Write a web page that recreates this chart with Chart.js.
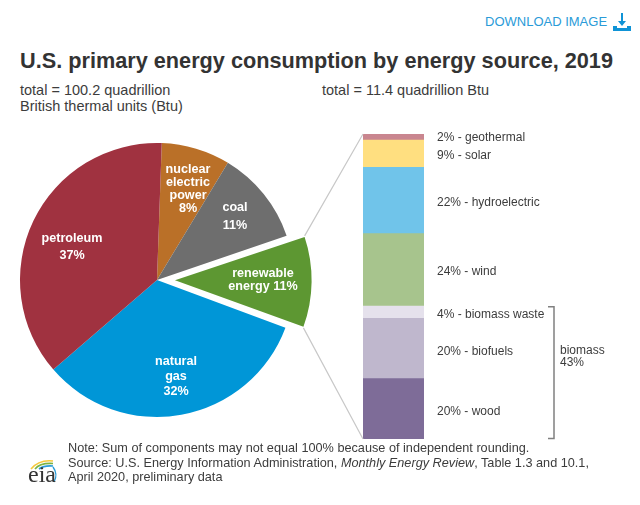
<!DOCTYPE html>
<html>
<head>
<meta charset="utf-8">
<script src="https://cdn.jsdelivr.net/npm/chart.js@4"></script>
<style>
body { margin: 0; background: #fff; font-family: "Liberation Sans", Arial, sans-serif; color: #333; }
#page { position: relative; width: 640px; height: 505px; overflow: hidden; }
#page div, #page canvas, #page svg { position: absolute; }
.small { font-size: 14.5px; line-height: 16px; white-space: nowrap; color: #3c3c3c; }
#title { left: 20px; top: 48px; font-size: 21.7px; font-weight: bold; white-space: nowrap; color: #333; }
#download { left: 485px; top: 14px; font-size: 13px; color: #2a9bd8; white-space: nowrap; }
#note { left: 68px; top: 441px; font-size: 12.7px; line-height: 14.6px; white-space: nowrap; color: #3c3c3c; }
</style>
</head>
<body>
<div id="page">
  <div id="download">DOWNLOAD IMAGE</div>
  <svg style="left:612px;top:12px" width="20" height="20">
    <path d="M9 1h2v8h3l-4 5-4-5h3z M1 14h4v2h10v-2h4v5H1z" fill="#0f93d6"/>
  </svg>
  <div id="title">U.S. primary energy consumption by energy source, 2019</div>
  <div class="small" style="left:20px;top:82px">total = 100.2 quadrillion<br>British thermal units (Btu)</div>
  <div class="small" style="left:322px;top:82px">total = 11.4 quadrillion Btu</div>
  <canvas id="pie" width="346" height="346" style="left:-16px;top:107px"></canvas>
  <canvas id="stack" width="350" height="320" style="left:290px;top:124px"></canvas>
  <div id="note">Note: Sum of components may not equal 100% because of independent rounding.<br>Source: U.S. Energy Information Administration, <i>Monthly Energy Review</i>, Table 1.3 and 10.1,<br>April 2020, preliminary data</div>
  <svg style="left:26px;top:458px" width="36" height="28">
    <path d="M5 11C10 5 18 2 27 3" fill="none" stroke="#f5c83c" stroke-width="1.6"/>
    <path d="M9 11C13 6 19 5 27 5.5" fill="none" stroke="#7cb342" stroke-width="1.6"/>
    <path d="M13 11C17 8 21 7.5 27 8" fill="none" stroke="#2a9bd8" stroke-width="1.6"/>
    <path d="M27 9C30 13 31 19 28 24" fill="none" stroke="#2a9bd8" stroke-width="1.4"/>
    <text x="2" y="24" font-family="Liberation Serif" font-size="24" fill="#333">eia</text>
  </svg>
</div>
<script>
// pie, clockwise from the top. sizes, labels are the printed rounded ones
var sources = ['nuclear', 'coal', 'renewable', 'natural gas', 'petroleum'];
var sourceShare = [8.1, 11.1, 10.9, 33, 36.9];
var sourceColors = ['#ba7028', '#6e6e6e', '#5d9732', '#0096d7', '#a03240'];
var sourceLabels = [
    ['nuclear', 'electric', 'power', '8%'],
    ['coal', '11%'],
    ['renewable', 'energy 11%'],
    ['natural', 'gas', '32%'],
    ['petroleum', '37%']
];

// renewable breakdown, bottom to top
var renewables = ['wood', 'biofuels', 'biomass waste', 'wind', 'hydroelectric', 'solar', 'geothermal'];
var renewableShare = [20, 20, 4, 24, 22, 9, 2];
var renewableColors = ['#7e6c98', '#bfb7cd', '#e5e1ec', '#a7c48d', '#70c4ea', '#ffdf80', '#c9868f'];
var biomassLabel = ['biomass', '43%'];

// where each slice label sits, relative to the pie centre
var labelPlace = [
    { dx: 31, dy: -110, lead: 13 },
    { dx: 78, dy: -72, lead: 17.5 },
    { dx: 106, dy: -6, lead: 13 },
    { dx: 19, dy: 82, lead: 15 },
    { dx: -85, dy: -41, lead: 17 }
];
// small vertical shifts of the segment labels, same order as renewables
var labelNudge = [2.9, 2.8, 2.5, 2.2, 2.3, 2.5, 0.2];

// chart.js grows an offset arc by offset/4 * (1 - sin(angle)), undo that so the slice keeps the pie radius
var sliceGrowth = 7;

var sliceText = {
    id: 'sliceText',
    beforeDatasetsDraw: function(chart) {
        var meta = chart.getDatasetMeta(0);
        meta.data[2].outerRadius = meta.controller.outerRadius - sliceGrowth;
    },
    afterDatasetsDraw: function(chart) {
        var ctx = chart.ctx;
        var arcs = chart.getDatasetMeta(0).data;
        ctx.save();
        ctx.font = 'bold 12.6px "Liberation Sans"';
        ctx.fillStyle = '#fff';
        ctx.textAlign = 'center';
        ctx.textBaseline = 'middle';
        sourceLabels.forEach(function(lines, i) {
            var p = labelPlace[i];
            lines.forEach(function(line, j) {
                ctx.fillText(line, arcs[i].x + p.dx, arcs[i].y + p.dy + j * p.lead);
            });
        });
        ctx.restore();
    }
};

var pieChart = new Chart(document.getElementById('pie'), {
    type: 'pie',
    data: {
        labels: sources,
        datasets: [{
            data: sourceShare,
            backgroundColor: sourceColors,
            borderWidth: 0,
            offset: [0, 0, 72, 0, 0]
        }]
    },
    options: {
        responsive: false,
        animation: false,
        rotation: 2,
        plugins: { legend: { display: false }, tooltip: { enabled: false } }
    },
    plugins: [sliceText]
});

var stackText = {
    id: 'stackText',
    afterDraw: function(chart) {
        var ctx = chart.ctx;
        var y = chart.scales.y;
        var area = chart.chartArea;
        var labelX = area.right + 13;
        var running = 0;
        ctx.save();

        // segment labels
        ctx.font = '12px "Liberation Sans"';
        ctx.fillStyle = '#3c3c3c';
        ctx.textBaseline = 'middle';
        renewables.forEach(function(name, i) {
            var mid = running + renewableShare[i] / 2;
            running += renewableShare[i];
            ctx.fillText(renewableShare[i] + '% - ' + name, labelX, y.getPixelForValue(mid) + labelNudge[i]);
        });

        // bracket round the three biomass segments
        var biomassTop = y.getPixelForValue(renewableShare[0] + renewableShare[1] + renewableShare[2]);
        var biomassBottom = y.getPixelForValue(0);
        var bx = area.right + 130;
        ctx.strokeStyle = '#808080';
        ctx.lineWidth = 1.5;
        ctx.beginPath();
        ctx.moveTo(bx - 6, biomassTop + 0.5);
        ctx.lineTo(bx, biomassTop + 0.5);
        ctx.lineTo(bx, biomassBottom - 0.5);
        ctx.lineTo(bx - 6, biomassBottom - 0.5);
        ctx.stroke();
        ctx.fillText(biomassLabel[0], bx + 6, biomassBottom - 88);
        ctx.fillText(biomassLabel[1], bx + 6, biomassBottom - 76);

        // leader lines from the renewable slice corners to the bar corners
        var arc = pieChart.getDatasetMeta(0).data[2];
        var pieBox = pieChart.canvas.getBoundingClientRect();
        var box = chart.canvas.getBoundingClientRect();
        var mid = (arc.startAngle + arc.endAngle) / 2;
        var ox = arc.x + Math.cos(mid) * 18 + pieBox.left - box.left;
        var oy = arc.y + Math.sin(mid) * 18 + pieBox.top - box.top;
        var r = pieChart.getDatasetMeta(0).controller.outerRadius;
        ctx.strokeStyle = '#c8c8c8';
        ctx.lineWidth = 1.2;
        ctx.beginPath();
        ctx.moveTo(ox + Math.cos(arc.startAngle) * r, oy + Math.sin(arc.startAngle) * r);
        ctx.lineTo(area.left, y.getPixelForValue(y.max));
        ctx.moveTo(ox + Math.cos(arc.endAngle) * r, oy + Math.sin(arc.endAngle) * r);
        ctx.lineTo(area.left, y.getPixelForValue(0));
        ctx.stroke();
        ctx.restore();
    }
};

new Chart(document.getElementById('stack'), {
    type: 'bar',
    data: {
        labels: ['renewable'],
        datasets: renewables.map(function(name, i) {
            return {
                label: name,
                data: [renewableShare[i]],
                backgroundColor: renewableColors[i],
                borderWidth: 0,
                barPercentage: 1,
                categoryPercentage: 1
            };
        })
    },
    options: {
        responsive: false,
        animation: false,
        layout: { padding: { left: 73, right: 216, top: 10, bottom: 5 } },
        scales: {
            x: { stacked: true, display: false },
            y: { stacked: true, display: false, min: 0, max: 101 }
        },
        plugins: { legend: { display: false }, tooltip: { enabled: false } }
    },
    plugins: [stackText]
});
</script>
</body>
</html>
